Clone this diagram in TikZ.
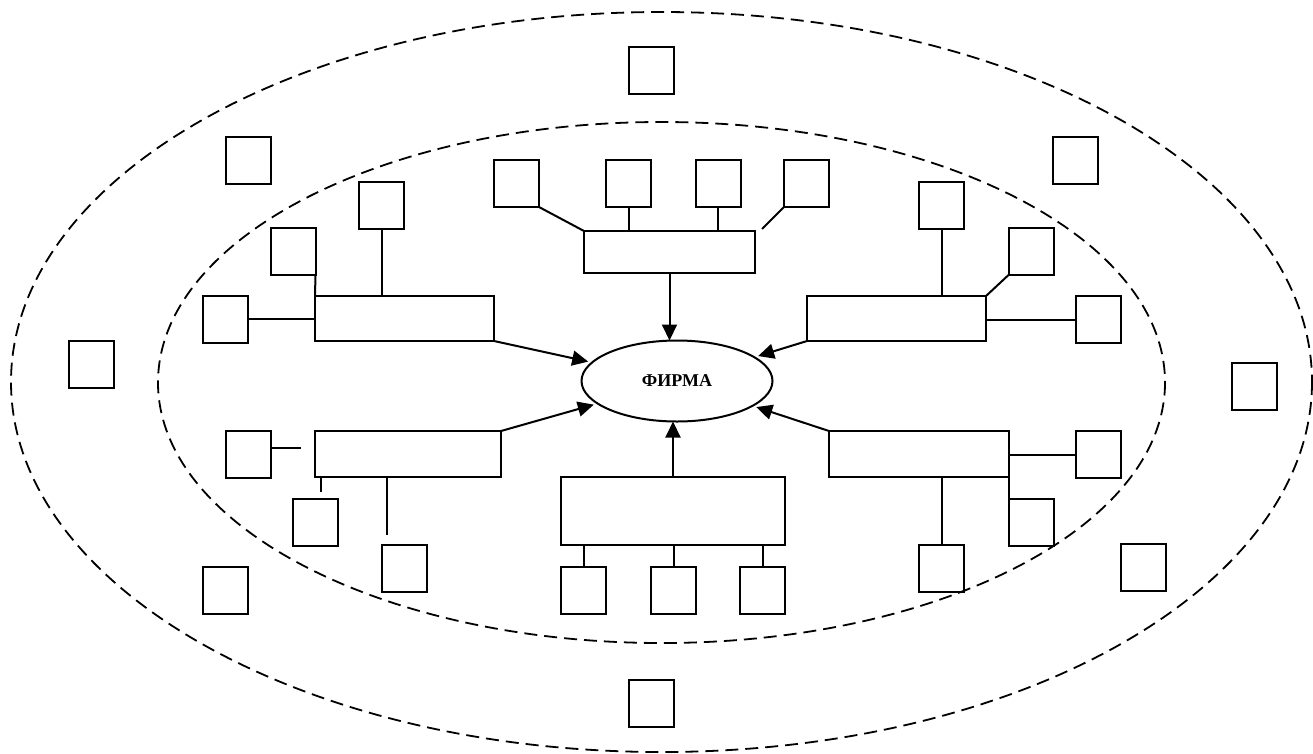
\documentclass[tikz,border=0pt]{standalone}
\usepackage{fontspec}
\setmainfont{Liberation Serif}
\usetikzlibrary{shapes.geometric,arrows.meta,calc}
\begin{document}
\begin{tikzpicture}[x=1pt,y=-1pt,
  sq/.style={draw,line width=2,minimum width=45,minimum height=47,inner sep=0,outer sep=0},
  bx/.style={draw,line width=2,inner sep=0,outer sep=0},
  ln/.style={line width=2},
  arr/.style={line width=2,-{Triangle[length=16,width=15]},shorten >=4},
  orbit/.style={line width=1.8,dash pattern=on 13pt off 7pt}]
\useasboundingbox (0,0) rectangle (1313,753);
% dashed ellipses
\draw[orbit] (661.5,382) ellipse [x radius=650.5,y radius=370];
\draw[orbit] (661.5,382.5) ellipse [x radius=503.5,y radius=260.5];
% central node
\node[draw,ellipse,line width=2,minimum width=191,minimum height=81,inner sep=0,outer sep=0] (firma) at (677,381)
  {\fontsize{18}{20}\selectfont\bfseries ФИРМА};
% rectangles
\node[bx,minimum width=179,minimum height=45] (tl) at (404.5,318.5) {};
\node[bx,minimum width=171,minimum height=42] (top) at (669.5,252) {};
\node[bx,minimum width=179,minimum height=45] (tr) at (896.5,318.5) {};
\node[bx,minimum width=186,minimum height=46] (bl) at (408,454) {};
\node[bx,minimum width=224,minimum height=68] (bot) at (673,511) {};
\node[bx,minimum width=180,minimum height=46] (br) at (919,454) {};
% outer squares
\node[sq] (o1) at (651,70.5) {};
\node[sq] (o2) at (248.5,160.5) {};
\node[sq] (o3) at (1075.5,160.5) {};
\node[sq] (o4) at (91.5,364.5) {};
\node[sq] (o5) at (1254.5,386.5) {};
\node[sq] (o6) at (225.5,590.5) {};
\node[sq] (o7) at (1143,567.5) {};
\node[sq] (o8) at (651,703.5) {};
% top-left group
\node[sq] (a1) at (381.5,205.5) {};
\node[sq] (a2) at (293,251) {};
\node[sq] (a3) at (225.5,319) {};
% top group
\node[sq] (b1) at (516.5,183.5) {};
\node[sq] (b2) at (628.5,183.5) {};
\node[sq] (b3) at (718,183.5) {};
\node[sq] (b4) at (806.5,183.5) {};
% top-right group
\node[sq] (c1) at (941.5,205.5) {};
\node[sq] (c2) at (1031,251.5) {};
\node[sq] (c3) at (1098.5,319.5) {};
% bottom-left group
\node[sq] (d1) at (248.5,454.5) {};
\node[sq] (d2) at (315.5,522.5) {};
\node[sq] (d3) at (404.5,568) {};
% bottom group
\node[sq] (e1) at (583.5,590.5) {};
\node[sq] (e2) at (673.5,590.5) {};
\node[sq] (e3) at (762.5,590.5) {};
% bottom-right group
\node[sq] (f1) at (1098.5,454.5) {};
\node[sq] (f2) at (1031.5,522.5) {};
\node[sq] (f3) at (941.5,568.5) {};
% free ends
\coordinate (b4e) at (762,229);
\coordinate (d1e) at (301,448);
\coordinate (d2e) at (321,492);
\coordinate (d3e) at (387,535);
% connectors: top-left
\draw[ln] (a1.south) -- (a1.south |- tl.north);
\draw[ln] (a2.south east) -- (tl.north west);
\draw[ln] (a3.east) -- (a3.east -| tl.west);
% top
\draw[ln] (b1.south east) -- (top.north west);
\draw[ln] (b2.south) -- (b2.south |- top.north);
\draw[ln] (b3.south) -- (b3.south |- top.north);
\draw[ln] (b4.south west) -- (b4e);
% top-right
\draw[ln] (c1.south) -- (c1.south |- tr.north);
\draw[ln] (c2.south west) -- (tr.north east);
\draw[ln] (c3.west) -- (c3.west -| tr.east);
% bottom-left
\draw[ln] (d1.east |- d1e) -- (d1e);
\draw[ln] (d2e |- bl.south) -- (d2e);
\draw[ln] (d3e |- bl.south) -- (d3e);
% bottom
\draw[ln] (e1.north) -- (e1.north |- bot.south);
\draw[ln] (e2.north) -- (e2.north |- bot.south);
\draw[ln] (e3.north) -- (e3.north |- bot.south);
% bottom-right
\draw[ln] (f1.west) -- (f1.west -| br.east);
\draw[ln] (br.south east) -- (f2.north west);
\draw[ln] (f3.north) -- (f3.north |- br.south);
% arrows to the firm
\draw[arr] (tl.south east) -- (firma);
\draw[arr,shorten >=0] (top.south) -- (top.south |- firma.north);
\draw[arr] (tr.south west) -- (firma);
\draw[arr] (bl.north east) -- (firma);
\draw[arr,shorten >=0] (bot.north) -- (bot.north |- firma.south);
\draw[arr] (br.north west) -- (firma);
\end{tikzpicture}
\end{document}
